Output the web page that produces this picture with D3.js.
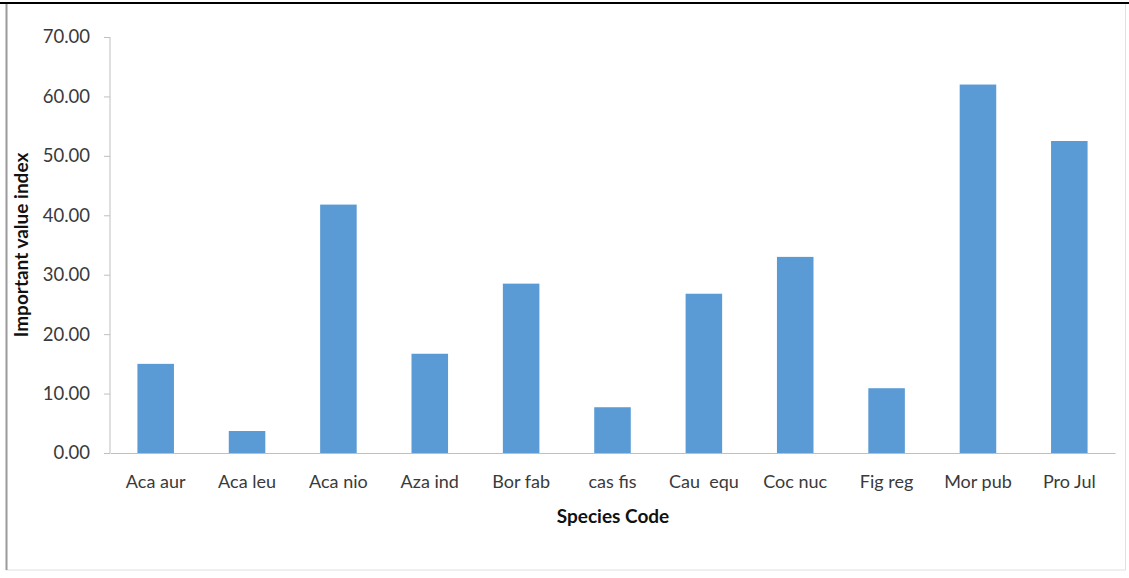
<!DOCTYPE html>
<html>
<head>
<meta charset="utf-8">
<script src="https://cdn.jsdelivr.net/npm/d3@7"></script>
<style>
  body { margin: 0; background: #fff; }
  text { font-family: Lato, "Open Sans", sans-serif; }
</style>
</head>
<body>
<div id="chart"></div>
<script>
// species and their IVI values
var species = ["Aca aur", "Aca leu", "Aca nio", "Aza ind", "Bor fab", "cas fis",
               "Cau  equ", "Coc nuc", "Fig reg", "Mor pub", "Pro Jul"];
var ivi = [15.0, 3.7, 41.8, 16.7, 28.5, 7.7, 26.8, 33.0, 10.9, 62.0, 52.5];
var yTicks = [0, 10, 20, 30, 40, 50, 60, 70];

var W = 1129, H = 578;
var margin = {top: 37, right: 14, bottom: 125, left: 110};
var width = W - margin.left - margin.right,
    height = H - margin.top - margin.bottom;

var svg = d3.select("#chart").append("svg")
    .attr("width", W)
    .attr("height", H);

// frame
svg.append("rect")
    .attr("x", 6.5).attr("y", 3).attr("width", 1119).attr("height", 567)
    .attr("fill", "#fff").attr("stroke", "#e0e0e0");
svg.append("line")
    .attr("x1", 6.5).attr("x2", 6.5).attr("y1", 3).attr("y2", 570)
    .style("stroke", "#9a9a9a").style("stroke-width", 2);
svg.append("line")
    .attr("x1", 0).attr("x2", W).attr("y1", 3).attr("y2", 3)
    .style("stroke", "#000").style("stroke-width", 2);

var x = d3.scaleBand().domain(species).range([0, width]).paddingInner(0.6).paddingOuter(0.3),
    y = d3.scaleLinear().domain([0, 70]).range([height, 0]);

var g = svg.append("g")
    .attr("transform", "translate(" + margin.left + "," + margin.top + ")");

g.selectAll(".bar")
    .data(ivi)
    .enter().append("rect")
    .attr("class", "bar")
    .attr("x", function(d, i) { return x(species[i]); })
    .attr("y", function(d) { return y(d); })
    .attr("width", x.bandwidth())
    .attr("height", function(d) { return height - y(d); })
    .attr("fill", "#5b9bd5");

// y axis
var yAxis = g.append("g")
    .call(d3.axisLeft(y).tickValues(yTicks).tickFormat(d3.format(".2f")).tickSize(6).tickPadding(14));
yAxis.select(".domain").attr("stroke", "#bfbfbf").attr("d", "M0," + height + "V0");
yAxis.selectAll(".tick line").attr("stroke", "#bfbfbf");
yAxis.selectAll(".tick text")
    .attr("fill", "#3a3a3a")
    .style("font-size", "18.5px");

// x axis
var xAxis = g.append("g")
    .attr("transform", "translate(0," + height + ")")
    .call(d3.axisBottom(x).tickSize(0).tickPadding(22));
xAxis.select(".domain").attr("stroke", "#bfbfbf");
xAxis.selectAll(".tick text")
    .attr("fill", "#3a3a3a")
    .style("font-size", "18px")
    .style("white-space", "pre");

// axis titles
svg.append("text")
    .attr("transform", "translate(28," + (margin.top + height / 2) + ") rotate(-90)")
    .attr("text-anchor", "middle")
    .style("font-size", "19px")
    .style("font-weight", "bold")
    .attr("fill", "#111")
    .text("Important value index");

svg.append("text")
    .attr("x", 613)
    .attr("y", 523)
    .attr("text-anchor", "middle")
    .style("font-size", "19px")
    .style("font-weight", "bold")
    .attr("fill", "#111")
    .text("Species Code");
</script>
</body>
</html>
